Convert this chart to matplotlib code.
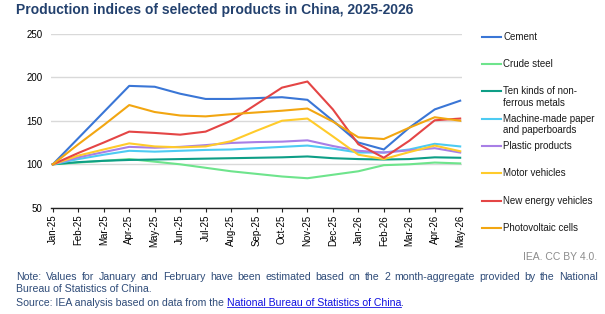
import matplotlib.pyplot as plt
from matplotlib.lines import Line2D

plt.rcParams['font.family'] = ['Liberation Sans', 'DejaVu Sans']

months = ["Jan-25", "Feb-25", "Mar-25", "Apr-25", "May-25", "Jun-25", "Jul-25", "Aug-25",
          "Sep-25", "Oct-25", "Nov-25", "Dec-25", "Jan-26", "Feb-26", "Mar-26", "Apr-26", "May-26"]

cement = [100, 130, 160, 190, 189, 181, 175, 175, 176, 177, 174, 150, 125, 117, 142, 163, 173]
crude_steel = [100, 102, 104, 106, 103, 100, 96, 92, 89, 86, 84, 88, 92, 99, 100, 102, 101]
non_ferrous = [100, 102.5, 104, 105, 105.5, 106, 106.5, 107, 107.5, 108, 109, 107, 106, 105.5, 106, 108, 107.5]
paper = [100, 106, 111, 115.5, 114.5, 115.5, 116.5, 117, 118.5, 120, 121.5, 118, 113.5, 113.5, 117, 123.5, 120.5]
plastic = [100, 108, 114, 120, 119, 120, 122, 124.5, 125.5, 126, 127.5, 121, 115.5, 113.5, 116, 118.5, 113.5]
motor = [100, 110, 117, 124, 120.5, 119.5, 120.5, 126.5, 138.5, 150, 152.5, 132, 111, 106, 114, 121.5, 115]
nev = [100, 113, 125, 137.5, 136, 134, 137.5, 150, 169, 188, 195, 163, 123, 107.5, 127, 150.5, 152.5]
pv = [100, 123, 145, 168, 160, 156, 155, 157.5, 159.5, 161.5, 164, 149, 131, 129, 142, 154, 150]

series = [
    ("Cement", cement, "#3A76D6"),
    ("Crude steel", crude_steel, "#6EE48C"),
    ("Ten kinds of non-\nferrous metals", non_ferrous, "#0E9E86"),
    ("Machine-made paper\nand paperboards", paper, "#4DCBF2"),
    ("Plastic products", plastic, "#A87FE6"),
    ("Motor vehicles", motor, "#FFCB2B"),
    ("New energy vehicles", nev, "#E44545"),
    ("Photovoltaic cells", pv, "#F2A611"),
]

W, H = 605, 314
fig = plt.figure(figsize=(W / 100, H / 100), dpi=100)
ax = fig.add_axes([0.084, 0.338, 0.680, 0.555])

x = range(len(months))
for name, vals, col in series:
    ax.plot(x, vals, color=col, lw=1.5, label=name)

ax.set_ylim(50, 250)
ax.set_yticks([50, 100, 150, 200, 250])
ax.set_xlim(-0.08, len(months) - 1 + 0.08)
ax.set_xticks(list(x))
ax.set_xticklabels(months, rotation=90)
ax.tick_params(axis="x", labelsize=7, length=3, width=0.8, color="#222222", pad=2)
ax.tick_params(axis="y", labelsize=7, length=0, pad=6)
ax.grid(axis="y", color="#D9D9D9", lw=1)
ax.set_axisbelow(True)
for s in ["top", "right", "left"]:
    ax.spines[s].set_visible(False)
ax.spines["bottom"].set_color("#222222")
ax.spines["bottom"].set_linewidth(1.0)

# legend, Excel style: handle lined up with the first text line, even steps
for i, (name, vals, col) in enumerate(series):
    yc = 36.7 + i * 27.3
    yf = 1 - yc / H
    fig.add_artist(Line2D([482 / W, 501 / W], [yf, yf], color=col, lw=1.5))
    nlines = name.count("\n") + 1
    ty = 1 - (yc + (nlines - 1) * 5.8) / H
    fig.text(503 / W, ty, name, fontsize=7, color="#1A1A1A", va="center", linespacing=1.2)

left, right = 16, 598

title_color = "#23416E"
fig.text(left / W, 0.99, "Production indices of selected products in China, 2025-2026",
         fontsize=10, fontweight="bold", color=title_color, va="top")

fig.text(597 / W, 1 - 257.5 / H, "IEA. CC BY 4.0.", fontsize=7.5, color="#8C8C8C",
         ha="right", va="center")

note_color = "#2E4B78"
fs = 7.6
r = fig.canvas.get_renderer()

# first note line is justified across the full width
words = ("Note: Values for January and February have been estimated based on the "
         "2 month-aggregate provided by the National").split()
ny = 1 - 276.7 / H
tmp = [fig.text(0, ny, w, fontsize=fs, color=note_color, va="center") for w in words]
widths = [t.get_window_extent(r).width for t in tmp]
gap = (right - left - sum(widths)) / (len(words) - 1)
pos = left
for t, w in zip(tmp, widths):
    t.set_x(pos / W)
    pos += w + gap

fig.text(left / W, 1 - 289.3 / H, "Bureau of Statistics of China.", fontsize=fs,
         color=note_color, va="center")
sy = 1 - 303.3 / H
src = fig.text(left / W, sy, "Source: IEA analysis based on data from the ", fontsize=fs,
               color=note_color, va="center")
bb = src.get_window_extent(r)
link = fig.text(bb.x1 / W, sy, "National Bureau of Statistics of China", fontsize=fs,
                color="#1010E0", va="center")
lb = link.get_window_extent(r)
fig.text(lb.x1 / W, sy, ".", fontsize=fs, color=note_color, va="center")
uy = (lb.y0 + 1.0) / H
fig.add_artist(Line2D([lb.x0 / W, lb.x1 / W], [uy, uy], color="#1010E0", lw=0.6))

fig.savefig("out.png", dpi=100)
